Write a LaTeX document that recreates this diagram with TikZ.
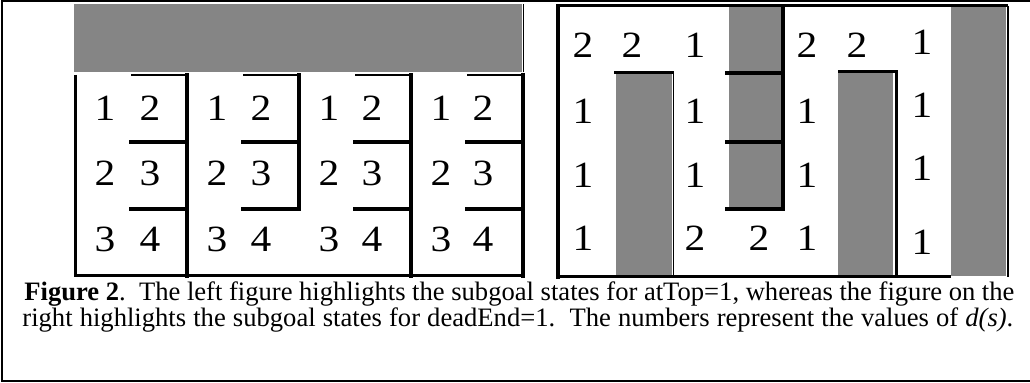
\documentclass[tikz,border=0pt]{standalone}
\usepackage{fontspec}
\setmainfont{Liberation Serif}
\usetikzlibrary{positioning}
\definecolor{ink}{HTML}{000000}
\definecolor{shade}{HTML}{858585}
\newcommand{\cellnum}[1]{\scalebox{1.12}[1]{#1}}

\begin{document}
\begin{tikzpicture}[x=0.5pt,y=-0.5pt,
  wall/.style={line width=2pt,color=ink,line cap=rect},
  edge/.style={line width=1.5pt,color=ink},
  hair/.style={line width=0.7pt,color=ink},
  pit/.style={fill=shade,draw=none},
  num/.style={font=\fontsize{18.5}{18.5}\selectfont,inner sep=0pt},
  captext/.style={font=\fontsize{13.3}{15}\selectfont,inner sep=0pt,anchor=base west}]
\useasboundingbox (0,0) rectangle (1030,383);
% outer frame
\draw[line width=1pt] (1030,1.5) -- (2,1.5) -- (2,381.5) -- (1030,381.5);

% left maze: atTop
\fill[pit] (74,4) rectangle (522,72);
\draw[hair] (523.5,4) -- (523.5,72);
\draw[edge] (75,75) -- (75,276) -- (523,276);
\foreach \b in {0,...,3} {
  \draw[hair] ({131+112*\b},75) -- ({187+112*\b},75);
  \draw[wall] ({131+112*\b},142) -- ({187+112*\b},142);
  \draw[wall] ({131+112*\b},209) -- ({187+112*\b},209);
}
\draw[wall] (187,75) -- (187,276);
\draw[wall] (299,75) -- (299,209);
\draw[wall] (411,75) -- (411,276);
\draw[wall] (523,75) -- (523,276);
\foreach \b in {0,...,3}
  \foreach \v/\yy in {1/108,2/173,3/239} {
    \pgfmathtruncatemacro{\w}{\v+1}
    \node[num] (l\b\v) at ({105+112*\b},\yy) {\cellnum{\v}};
    \node[num] (r\b\v) at ({150+111*\b},\yy) {\cellnum{\w}};
  }

% right maze: deadEnd
\fill[pit] (616,74) rectangle (672,275);
\fill[pit] (729,6) rectangle (781,209);
\fill[pit] (838,73) rectangle (893,275);
\fill[pit] (951,6) rectangle (1006,276);
\draw[wall] (558,6) -- (558,277);
\draw[edge] (558,6) -- (1008,6);
\draw[edge] (558,277) -- (951,277);
\draw[hair] (1008,6) -- (1008,277);
\draw[edge] (614,73) -- (674,73);
\draw[hair] (673.5,73) -- (673.5,277);
\draw[wall] (783,6) -- (783,209);
\foreach \yy in {73,142,209}
  \draw[wall] (727,\yy) -- (783,\yy);
\draw[edge] (838,72) -- (898,72);
\draw[line width=1.2pt] (896.5,72) -- (896.5,277);
\foreach \xx/\yy/\v [count=\i] in {583/45/2,632/45/2,695/45/1,807/45/2,857/45/2,922/42/1,
    583/111/1,695/111/1,807/111/1,922/105/1,
    583/175/1,695/175/1,807/175/1,922/168/1,
    583/238/1,695/238/2,759/238/2,807/238/1,922/242/1}
  \node[num] (d\i) at (\xx,\yy) {\cellnum{\v}};

% caption
\node[captext] (cap1) at (24,301)
  {\makebox[495pt][s]{\textbf{Figure 2}.\ \ The left figure highlights the subgoal states for atTop=1, whereas the figure on the}};
\node[captext] (cap2) at (22,327)
  {\makebox[495.5pt][s]{right highlights the subgoal states for deadEnd=1.\ \ The numbers represent the values of \textit{d(s)}.}};
\end{tikzpicture}
\end{document}
